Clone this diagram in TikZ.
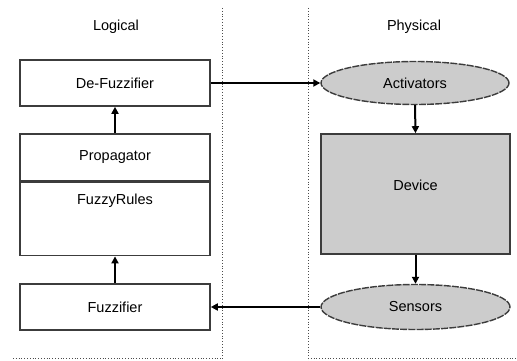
\documentclass[tikz,border=0pt]{standalone}
\usepackage{fontspec}
\setmainfont{Liberation Sans}
\usetikzlibrary{arrows.meta,shapes.geometric}

\definecolor{shade}{RGB}{204,204,204}
\definecolor{edge}{RGB}{60,60,60}

\begin{document}
\begin{tikzpicture}[x=1pt,y=-1pt,font=\fontsize{14.5}{16}\selectfont,
  box/.style={draw=edge,line width=1.6pt,fill=white,minimum width=190pt,inner sep=0pt},
  blob/.style={ellipse,draw=edge,line width=1.4pt,dash pattern=on 7pt off 1.2pt,fill=shade,inner sep=0pt},
  arr/.style={-{Triangle[length=7pt,width=7pt]},line width=2pt},
  sep/.style={black!70,line width=0.8pt,dotted}]
\useasboundingbox (0,0) rectangle (517,361);

\node (logical) at (116,27) {Logical};
\node (physical) at (414,27) {Physical};

% logical side
\node[box,minimum height=46pt] (defuzz) at (115,83) {De-Fuzzifier};
\node[box,minimum height=47pt] (prop) at (115,157.5) {Propagator};
\node[box,minimum height=73pt,anchor=north] (rules) at (prop.south) {};
\node (rulestext) at ([yshift=-19pt]rules.north) {FuzzyRules};
\node[box,minimum height=46pt] (fuzz) at (115,307) {Fuzzifier};

% physical side
\node[blob,minimum width=188pt,minimum height=43pt] (act) at (415,83) {Activators};
\node[box,fill=shade,minimum width=189pt,minimum height=120pt] (dev) at (415.5,194) {};
\node (devtext) at ([yshift=9pt]dev.center) {Device};
\node[blob,minimum width=189pt,minimum height=45pt] (sens) at (415.5,307) {Sensors};

% separators
\coordinate (lt) at (222,8);
\coordinate (lb) at (222,361);
\coordinate (rt) at (308,8);
\coordinate (rb) at (308,361);
\coordinate (bl1) at (13,358);
\coordinate (bl2) at (222,358);
\coordinate (br1) at (308,358);
\coordinate (br2) at (517,358);
\draw[sep] (lt) -- (lb);
\draw[sep] (rt) -- (rb);
\draw[sep] (bl1) -- (bl2);
\draw[sep] (br1) -- (br2);

\draw[arr] (prop.north) -- (defuzz.south);
\draw[arr] (fuzz.north) -- (rules.south);
\draw[arr] (defuzz.east) -- (act.west);
\draw[arr] (act.south) -- (dev.north);
\draw[arr] (dev.south) -- (sens.north);
\draw[arr] (sens.west) -- (fuzz.east);
\end{tikzpicture}
\end{document}
